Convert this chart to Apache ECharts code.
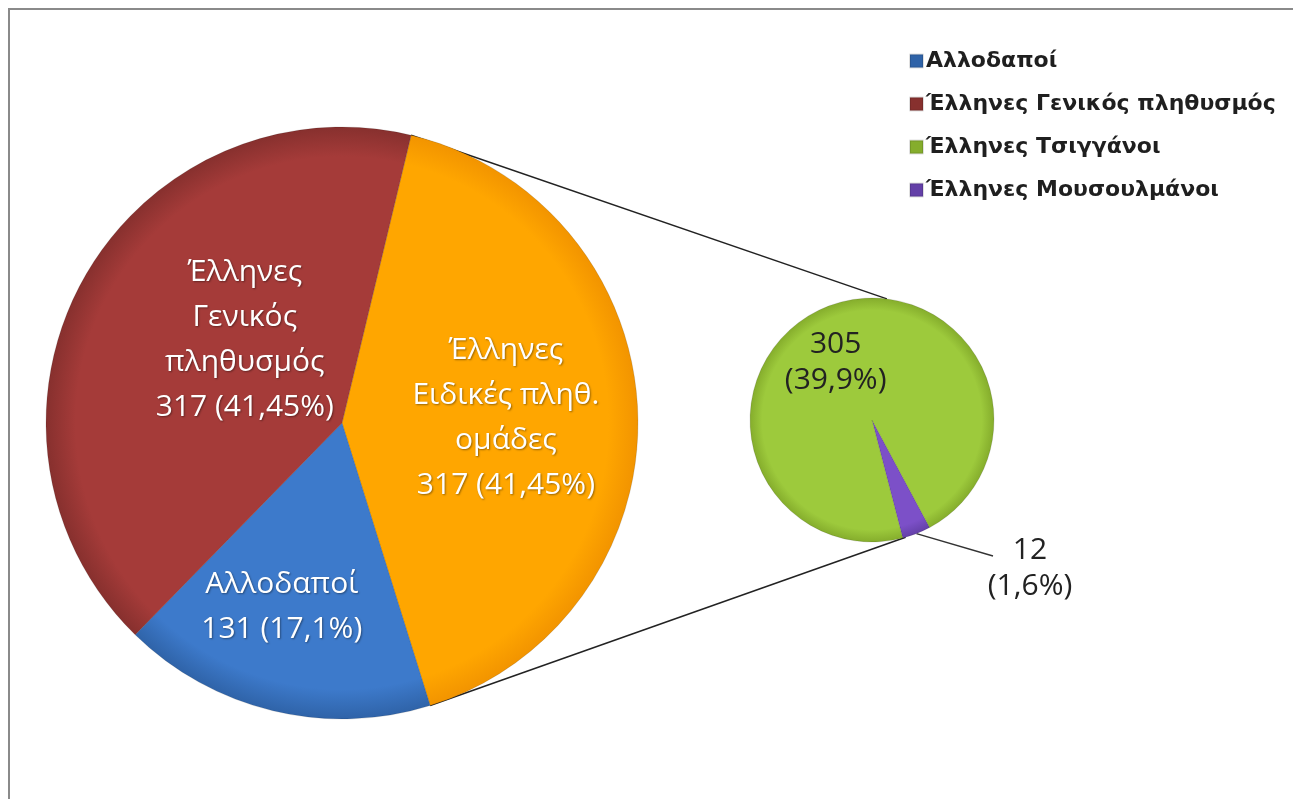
<!DOCTYPE html>
<html>
<head>
<meta charset="utf-8">
<script src="https://cdn.jsdelivr.net/npm/echarts@6/dist/echarts.min.js"></script>
<style>
  html, body { margin: 0; padding: 0; background: #fff; }
  #chart { width: 1293px; height: 799px; }
</style>
</head>
<body>
<div id="chart"></div>
<script>
  // main pie: other slice first, then the two named groups
  const mainNames = ['Έλληνες Ειδικές πληθ. ομάδες', 'Αλλοδαποί', 'Έλληνες Γενικός πληθυσμός'];
  const mainLabelText = ['Έλληνες\nΕιδικές πληθ.\nομάδες', 'Αλλοδαποί', 'Έλληνες\nΓενικός\nπληθυσμός'];
  const mainValues = [317, 131, 317];
  const mainPercents = ['41,45%', '17,1%', '41,45%'];

  // second pie: breakdown of the "special groups" slice
  const subNames = ['Έλληνες Μουσουλμάνοι', 'Έλληνες Τσιγγάνοι'];
  const subValues = [12, 305];
  const subPercents = ['1,6%', '39,9%'];

  const legendNames = ['Αλλοδαποί', 'Έλληνες Γενικός πληθυσμός', 'Έλληνες Τσιγγάνοι', 'Έλληνες Μουσουλμάνοι'];

  const mainColors = [['#ffa600', '#f29400'], ['#3d7acb', '#2f63a8'], ['#a53b39', '#87302e']];
  const subColors = [['#7c50c8', '#6440a8'], ['#9dca3c', '#85ad2c']];
  // label nudges relative to the default inside position
  const mainLabelShift = [[13, 0], [-25, 37], [35, -10]];

  const mainCenter = [342, 423];
  const mainRadius = 296;
  const mainStart = 76.5;
  const subCenter = [872, 420];
  const subRadius = 122;
  const subStart = -61.8;
  const smallLabelAt = [1030, 568];

  const chart = echarts.init(document.getElementById('chart'));

  function polar(center, r, deg) {
    const a = deg * Math.PI / 180;
    return [center[0] + r * Math.cos(a), center[1] - r * Math.sin(a)];
  }

  function rimFill(center, r, pair) {
    return {
      type: 'radial',
      x: center[0],
      y: center[1],
      r: r,
      global: true,
      colorStops: [
        { offset: 0, color: pair[0] },
        { offset: 0.9, color: pair[0] },
        { offset: 1, color: pair[1] },
      ],
    };
  }

  // connector lines from the edges of the split slice to the second pie
  const mainTotal = mainValues.reduce((s, v) => s + v, 0);
  const subTotal = subValues.reduce((s, v) => s + v, 0);
  const splitEnd = mainStart - 360 * mainValues[0] / mainTotal;
  const p1 = polar(mainCenter, mainRadius, mainStart);
  const p2 = polar(mainCenter, mainRadius, splitEnd);
  const q1 = polar(subCenter, subRadius, 83);
  const q2 = polar(subCenter, subRadius, -74);
  // leader from the middle of the small slice to its label
  const smallMid = subStart - 180 * subValues[0] / subTotal;
  const lead = polar(subCenter, subRadius, smallMid);

  chart.setOption({
    animation: false,
    backgroundColor: '#fff',
    legend: {
      orient: 'vertical',
      left: 904,
      top: 45,
      itemWidth: 13,
      itemHeight: 13,
      itemGap: 21,
      icon: 'rect',
      data: legendNames,
      textStyle: {
        fontFamily: 'DejaVu Sans',
        fontWeight: 'bold',
        fontSize: 22,
        color: '#1f1f1f',
        padding: [0, 0, 0, -2],
      },
    },
    graphic: [
      {
        type: 'polyline',
        silent: true,
        shape: { points: [[9, 799], [9, 9], [1293, 9]] },
        style: { fill: null, stroke: '#8a8a8a', lineWidth: 2 },
      },
      {
        type: 'line',
        silent: true,
        z: 0,
        shape: { x1: p1[0], y1: p1[1], x2: q1[0], y2: q1[1] },
        style: { stroke: '#222', lineWidth: 1.5 },
      },
      {
        type: 'line',
        silent: true,
        z: 0,
        shape: { x1: p2[0], y1: p2[1], x2: q2[0], y2: q2[1] },
        style: { stroke: '#222', lineWidth: 1.5 },
      },
      {
        type: 'line',
        silent: true,
        z: 0,
        shape: { x1: lead[0], y1: lead[1], x2: smallLabelAt[0] - 37, y2: smallLabelAt[1] - 12 },
        style: { stroke: '#333', lineWidth: 1.5 },
      },
    ],
    series: [
      {
        type: 'pie',
        center: mainCenter,
        radius: mainRadius,
        startAngle: mainStart,
        clockwise: true,
        avoidLabelOverlap: false,
        itemStyle: { borderColor: 'rgba(0,0,0,0.12)', borderWidth: 1 },
        label: {
          position: 'inside',
          fontFamily: 'Open Sans',
          fontSize: 30,
          lineHeight: 45,
          color: '#fff',
          textShadowColor: 'rgba(0,0,0,0.4)',
          textShadowBlur: 2,
          textShadowOffsetX: 1,
          textShadowOffsetY: 1,
          formatter: (p) => `${mainLabelText[p.dataIndex]}\n${p.value} (${mainPercents[p.dataIndex]})`,
        },
        labelLayout: (params) => ({
          dx: mainLabelShift[params.dataIndex][0],
          dy: mainLabelShift[params.dataIndex][1],
        }),
        labelLine: { show: false },
        data: mainNames.map((name, i) => ({
          name,
          value: mainValues[i],
          itemStyle: { color: rimFill(mainCenter, mainRadius, mainColors[i]) },
        })),
      },
      {
        type: 'pie',
        center: subCenter,
        radius: subRadius,
        startAngle: subStart,
        clockwise: true,
        avoidLabelOverlap: false,
        itemStyle: { borderColor: 'rgba(0,0,0,0.12)', borderWidth: 1 },
        label: {
          fontFamily: 'Open Sans',
          fontSize: 30,
          lineHeight: 36,
          color: '#222',
          formatter: (p) => `${p.value}\n(${subPercents[p.dataIndex]})`,
        },
        labelLayout: (params) => (params.dataIndex === 0
          ? { x: smallLabelAt[0], y: smallLabelAt[1], align: 'center', verticalAlign: 'middle' }
          : { dx: -13, dy: 2 }),
        labelLine: { show: false },
        data: subNames.map((name, i) => ({
          name,
          value: subValues[i],
          itemStyle: { color: rimFill(subCenter, subRadius, subColors[i]) },
          label: i === 0
            ? { position: 'outside', align: 'center' }
            : { position: 'inside' },
        })),
      },
    ],
  });
</script>
</body>
</html>
